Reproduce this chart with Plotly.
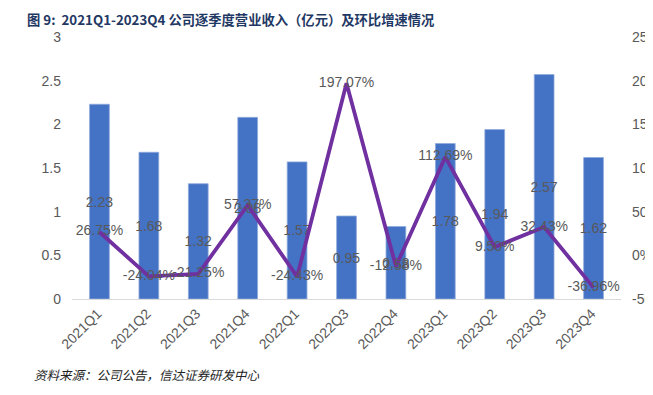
import plotly.graph_objects as go

categories = ["2021Q1", "2021Q2", "2021Q3", "2021Q4", "2022Q1", "2022Q3",
              "2022Q4", "2023Q1", "2023Q2", "2023Q3", "2023Q4"]
revenue = [2.23, 1.68, 1.32, 2.08, 1.57, 0.95, 0.83, 1.78, 1.94, 2.57, 1.62]
qoq_growth = [26.75, -24.04, -21.25, 57.37, -24.43, 197.07, -12.58, 112.69, 9.50, 32.43, -36.96]

revenue_labels = [f"{v:.2f}" for v in revenue]
growth_labels = [f"{v:.2f}%" for v in qoq_growth]

left_ticks = [0, 0.5, 1, 1.5, 2, 2.5, 3]
left_tick_text = ["0", "0.5", "1", "1.5", "2", "2.5", "3"]
right_ticks = [-50, 0, 50, 100, 150, 200, 250]
right_tick_text = ["-50%", "0%", "50%", "100%", "150%", "200%", "250%"]

gray = "#595959"
fig = go.Figure()
fig.add_trace(go.Bar(
    x=categories, y=revenue, marker=dict(color="#4472C4", line=dict(color="#8FAADC", width=0.8)),
    text=revenue_labels, textposition="inside", insidetextanchor="middle",
    textangle=0, constraintext="none",
    textfont=dict(family="Liberation Sans, Arial", size=14, color=gray),
    cliponaxis=False, name="营业收入", yaxis="y",
))
fig.add_trace(go.Scatter(
    x=categories, y=qoq_growth, mode="lines+text",
    line=dict(color="#7030A0", width=3.8),
    text=growth_labels, textposition="middle center",
    textfont=dict(family="Liberation Sans, Arial", size=14, color=gray),
    cliponaxis=False, name="环比增速", yaxis="y2",
))

fig.update_layout(
    width=645, height=387,
    margin=dict(l=64, r=32, t=29, b=96, autoexpand=False),
    paper_bgcolor="white", plot_bgcolor="white",
    showlegend=False, bargap=0.6,
    font=dict(family="Liberation Sans, Arial", color=gray),
    xaxis=dict(
        type="category", tickangle=-45, showgrid=False, automargin=False,
        showline=True, linecolor="#D9D9D9", linewidth=1,
        ticks="", tickfont=dict(size=14, color=gray), ticklabelshift=-2,
    ),
    yaxis=dict(
        range=[0, 3], tickvals=left_ticks, ticktext=left_tick_text,
        showgrid=False, zeroline=False, ticks="", automargin=False,
        tickfont=dict(size=14, color=gray), ticklabelstandoff=10,
    ),
    yaxis2=dict(
        range=[-50, 250], tickvals=right_ticks, ticktext=right_tick_text,
        overlaying="y", side="right", showgrid=False, zeroline=False, ticks="",
        automargin=False,
        tickfont=dict(size=14, color=gray), ticklabelstandoff=10,
    ),
    annotations=[
        dict(text="<b>图 9:  2021Q1-2023Q4 公司逐季度营业收入（亿元）及环比增速情况</b>",
             xref="paper", yref="paper", x=-47 / 549, y=1.0, yshift=29,
             xanchor="left", yanchor="top", showarrow=False,
             font=dict(family="Noto Sans CJK SC", size=13.3, color="#1F3864")),
        dict(text="<i>资料来源：公司公告，信达证券研发中心</i>",
             xref="paper", yref="paper", x=-40 / 549, y=0, yshift=-75,
             xanchor="left", yanchor="middle", showarrow=False,
             font=dict(family="Noto Sans CJK SC", size=12.5, color="#222222")),
    ],
)
fig.write_html("out.html")
